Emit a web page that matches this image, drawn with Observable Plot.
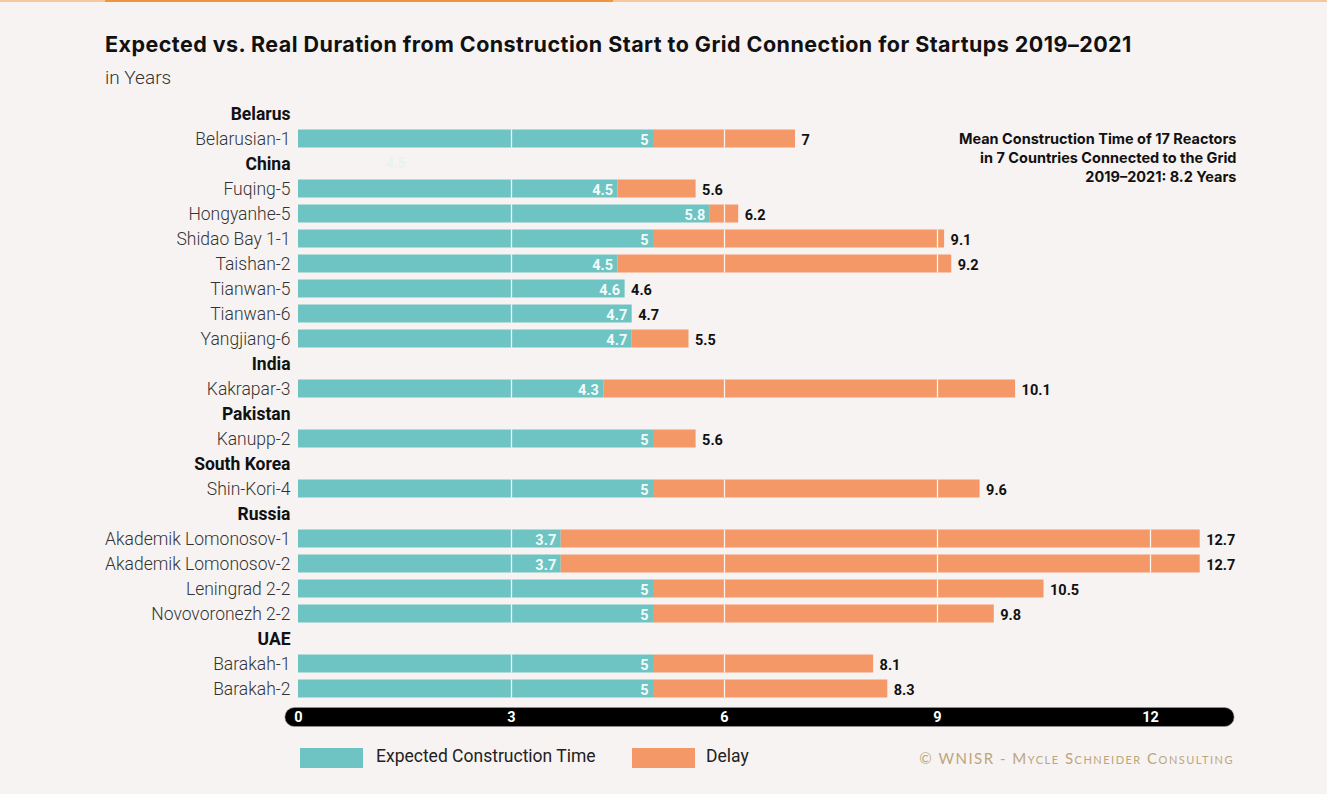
<!DOCTYPE html>
<html><head><meta charset="utf-8">
<script src="https://cdn.jsdelivr.net/npm/d3@7"></script>
<script src="https://cdn.jsdelivr.net/npm/@observablehq/plot@0.6"></script>
<style>
html,body{margin:0;padding:0;background:#f7f3f2;width:1327px;height:794px;overflow:hidden;font-family:Roboto,"Noto Sans",sans-serif;}
#topline{position:absolute;left:0;top:0;width:1327px;height:2px;background:#f4c79f;}
#topline div{position:absolute;left:105px;width:508px;top:0;height:2px;background:#ef9540;}
#title{position:absolute;left:105px;top:31px;font-family:Inter,Roboto,sans-serif;font-size:21.5px;letter-spacing:0.45px;font-weight:700;color:#111;white-space:nowrap;}
#sub{position:absolute;left:105px;top:66px;font-size:19px;font-weight:300;color:#333;}
#chart{position:absolute;left:0;top:88px;}
.leg{position:absolute;top:748px;height:20px;}
.legt{position:absolute;top:746px;font-size:17.5px;color:#222;font-weight:400;}
#copy{position:absolute;top:749px;right:93px;font-family:Lato,"DejaVu Sans",sans-serif;font-variant:small-caps;font-size:15px;letter-spacing:1.5px;color:#bca67c;}
</style></head>
<body>
<div id="topline"><div></div></div>
<div id="title">Expected vs. Real Duration from Construction Start to Grid Connection for Startups 2019–2021</div>
<div id="sub">in Years</div>
<div id="chart"></div>
<div class="leg" style="left:300px;width:63px;background:#6ec4c2"></div>
<div class="legt" style="left:376px">Expected Construction Time</div>
<div class="leg" style="left:632px;width:63px;background:#f39866"></div>
<div class="legt" style="left:706px">Delay</div>
<div id="copy">© WNISR - Mycle Schneider Consulting</div>
<script>
const countries = ["Belarus","China","India","Pakistan","South Korea","Russia","UAE"];
const reactors = ["Belarusian-1","Fuqing-5","Hongyanhe-5","Shidao Bay 1-1","Taishan-2","Tianwan-5","Tianwan-6","Yangjiang-6","Kakrapar-3","Kanupp-2","Shin-Kori-4","Akademik Lomonosov-1","Akademik Lomonosov-2","Leningrad 2-2","Novovoronezh 2-2","Barakah-1","Barakah-2"];
const reactorCountry = ["Belarus","China","China","China","China","China","China","China","India","Pakistan","South Korea","Russia","Russia","Russia","Russia","UAE","UAE"];
const expected = [5,4.5,5.8,5,4.5,4.6,4.7,4.7,4.3,5,5,3.7,3.7,5,5,5,5];
const total = [7,5.6,6.2,9.1,9.2,4.6,4.7,5.5,10.1,5.6,9.6,12.7,12.7,10.5,9.8,8.1,8.3];
const xTicks = [0,3,6,9,12];
const note = "Mean Construction Time of 17 Reactors\nin 7 Countries Connected to the Grid\n2019–2021: 8.2 Years";

const teal = "#6ec4c2", orange = "#f39866";
const data = reactors.map((r,i)=>({name:r,country:reactorCountry[i],exp:expected[i],tot:total[i]}));
const rows = [];
countries.forEach(c=>{
  rows.push({name:c,header:true});
  data.filter(d=>d.country===c).forEach(d=>rows.push({name:d.name,header:false}));
});
const grid = [];
data.forEach(d=>xTicks.slice(1).forEach(t=>{ if (t < d.tot) grid.push({name:d.name,x:t}); }));
const ghost = [{name:"China",x:1.37,text:"4.5"}];

const chart = Plot.plot({
  width:1327, height:653,
  marginLeft:298, marginRight:106, marginTop:12.5, marginBottom:40,
  style:{background:"transparent",fontFamily:"Roboto, 'Noto Sans', sans-serif"},
  x:{domain:[0,13], ticks:xTicks, tickSize:0, tickPadding:10, tickFormat:d=>String(d)},
  y:{domain:rows.map(r=>r.name), padding:0, axis:null},
  marks:[
    Plot.barX(data,{y:"name",x1:0,x2:"exp",fill:teal,insetTop:3.5,insetBottom:3.5}),
    Plot.barX(data.filter(d=>d.tot>d.exp),{y:"name",x1:"exp",x2:"tot",fill:orange,insetTop:3.5,insetBottom:3.5}),
    Plot.tickX(grid,{y:"name",x:"x",stroke:"#fff",strokeWidth:1.3,insetTop:3.5,insetBottom:3.5,strokeOpacity:0.9}),
    Plot.text(data,{y:"name",x:"exp",text:d=>String(d.exp),textAnchor:"end",dx:-5,dy:1,fill:"#f2fbfa",fontWeight:700,fontSize:14.5}),
    Plot.text(data,{y:"name",x:"tot",text:d=>String(d.tot),textAnchor:"start",dx:6,dy:1,fill:"#111",fontWeight:700,fontSize:14.5}),
    Plot.text(ghost,{y:"name",x:"x",text:"text",fill:"#e6f3f2",fontWeight:700,fontSize:14}),
    Plot.text(rows.filter(r=>!r.header),{y:"name",frameAnchor:"left",dx:-8,textAnchor:"end",text:"name",fill:"#333",fontWeight:300,fontSize:17.5}),
    Plot.text(rows.filter(r=>r.header),{y:"name",frameAnchor:"left",dx:-8,textAnchor:"end",text:"name",fill:"#111",fontWeight:700,fontSize:17.5}),
    Plot.text([note],{frameAnchor:"top-right",dx:15,dy:30,text:d=>d,textAnchor:"end",lineAnchor:"top",fontWeight:700,fontSize:14.5,lineHeight:1.29,fill:"#111",fontFamily:"Inter, Roboto, sans-serif"}),
    Plot.axisX({ticks:xTicks,tickSize:0,tickPadding:10,fill:"#fff",fontSize:14.5,fontWeight:700,tickFormat:d=>String(d)})
  ]
});
document.getElementById("chart").appendChild(chart);
// rounded black axis band behind the tick labels
const sx = chart.scale("x");
const svg = d3.select(chart.tagName.toLowerCase()==="svg"?chart:chart.querySelector("svg"));
const x0 = sx.apply(-0.185), x1 = sx.apply(13.185);
const plotBottom = 653 - 40;
svg.insert("rect", ":first-child")
  .attr("x", x0).attr("y", plotBottom + 6.5).attr("width", x1 - x0).attr("height", 19)
  .attr("rx", 9.5).attr("fill", "#000").attr("stroke","#999").attr("stroke-width",0.6);
</script>
</body></html>
